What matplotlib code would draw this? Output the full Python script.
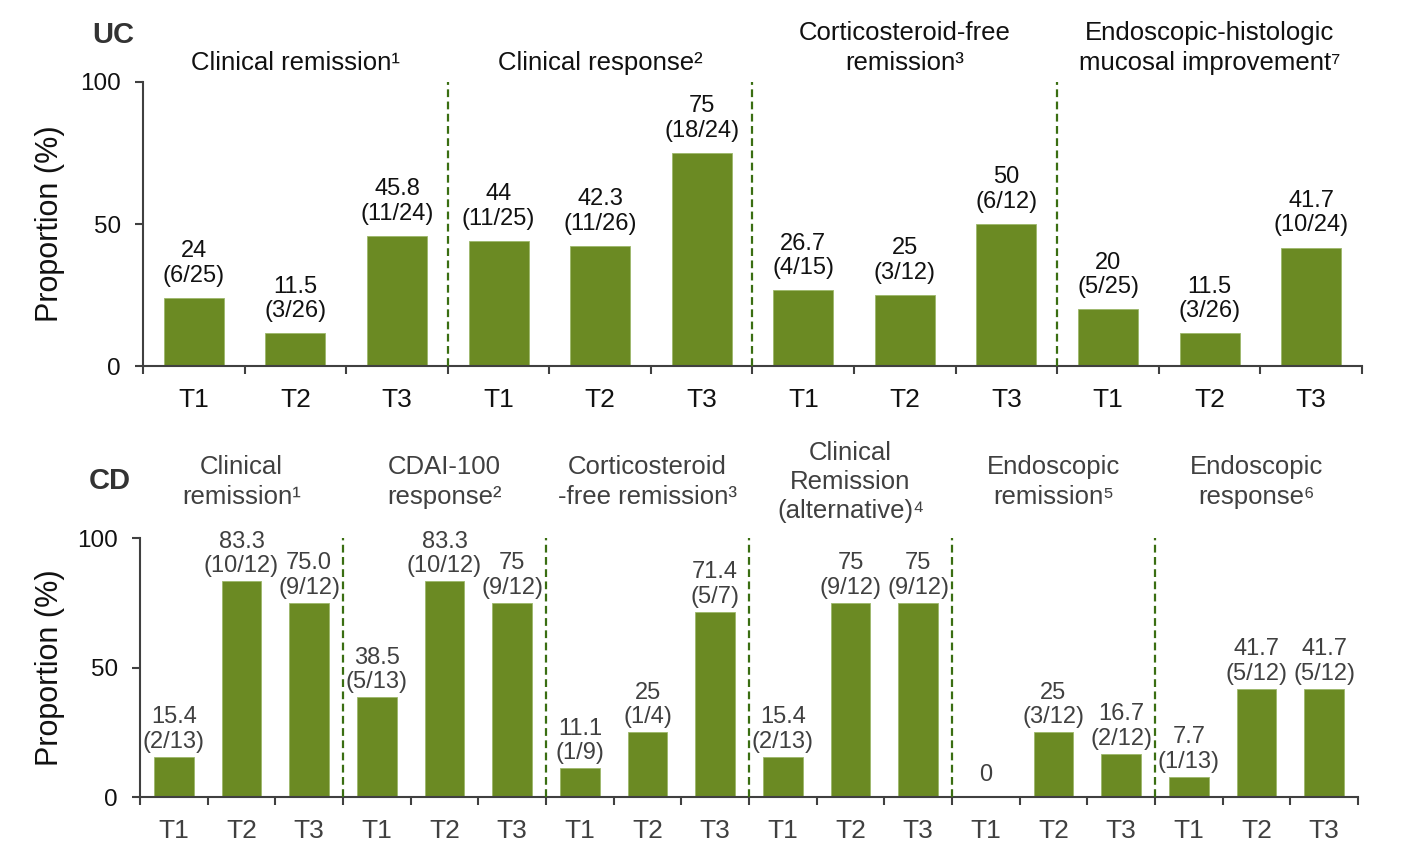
import matplotlib
matplotlib.use("Agg")
import matplotlib.pyplot as plt

plt.rcParams['font.family'] = ['Liberation Sans', 'DejaVu Sans']

timepoints = ["T1", "T2", "T3"]

# Ulcerative colitis endpoints
uc_titles = [
    "Clinical remission¹",
    "Clinical response²",
    "Corticosteroid-free\nremission³",
    "Endoscopic-histologic\nmucosal improvement⁷",
]
uc_values = [["24", "11.5", "45.8"],
             ["44", "42.3", "75"],
             ["26.7", "25", "50"],
             ["20", "11.5", "41.7"]]
uc_counts = [["6/25", "3/26", "11/24"],
             ["11/25", "11/26", "18/24"],
             ["4/15", "3/12", "6/12"],
             ["5/25", "3/26", "10/24"]]

# Crohn's disease endpoints
cd_titles = [
    "Clinical\nremission¹",
    "CDAI-100\nresponse²",
    "Corticosteroid\n-free remission³",
    "Clinical\nRemission\n(alternative)⁴",
    "Endoscopic\nremission⁵",
    "Endoscopic\nresponse⁶",
]
cd_values = [["15.4", "83.3", "75.0"],
             ["38.5", "83.3", "75"],
             ["11.1", "25", "71.4"],
             ["15.4", "75", "75"],
             ["0", "25", "16.7"],
             ["7.7", "41.7", "41.7"]]
cd_counts = [["2/13", "10/12", "9/12"],
             ["5/13", "10/12", "9/12"],
             ["1/9", "1/4", "5/7"],
             ["2/13", "9/12", "9/12"],
             ["", "3/12", "2/12"],
             ["1/13", "5/12", "5/12"]]

BAR_COLOR = "#6B8A23"
EDGE_COLOR = "#9DB86A"
DIVIDER_COLOR = "#3A6E12"
AXIS_COLOR = "#404040"

W, H = 1424, 846
fig = plt.figure(figsize=(W / 100, H / 100), dpi=100)


def draw_panel(ax, titles, values, counts, text_color, title_y, title_va,
               label_gap):
    n_groups = len(titles)
    n_bars = n_groups * len(timepoints)
    pos = 0
    for g in range(n_groups):
        for t in range(len(timepoints)):
            txt = values[g][t]
            h = float(txt)
            ax.bar(pos, h, width=0.59, color=BAR_COLOR, edgecolor=EDGE_COLOR,
                   linewidth=0.6, zorder=2)
            if counts[g][t]:
                label, gap = f"{txt}\n({counts[g][t]})", label_gap
            else:
                label, gap = txt, label_gap + 5
            ax.annotate(label, xy=(pos, h), xytext=(0, gap),
                        textcoords="offset points", ha="center", va="bottom",
                        fontsize=17, color=text_color, linespacing=1.15)
            pos += 1
        ax.text(g * 3 + 1, title_y, titles[g], ha="center", va=title_va,
                fontsize=18.5, color=text_color, linespacing=1.27,
                clip_on=False)
        if g > 0:
            ax.vlines(g * 3 - 0.5, 0, 100, colors=DIVIDER_COLOR,
                      linestyles=(0, (3.5, 2)), linewidth=1.6, zorder=3)

    ax.set_xlim(-0.5, n_bars - 0.5)
    ax.set_ylim(0, 100)
    ax.set_xticks([k - 0.5 for k in range(n_bars + 1)])
    ax.set_xticklabels([])
    ax.set_xticks(range(n_bars), minor=True)
    ax.set_xticklabels(timepoints * n_groups, minor=True)
    ax.tick_params(axis="x", which="major", length=6, width=1.5,
                   color=AXIS_COLOR, direction="out")
    ax.tick_params(axis="x", which="minor", length=0, pad=16,
                   labelsize=19, labelcolor=text_color)
    ax.set_yticks([0, 50, 100])
    ax.tick_params(axis="y", length=6, width=1.5, color=AXIS_COLOR,
                   direction="out", pad=10, labelsize=17.5, labelcolor="#111111")
    for side in ("top", "right"):
        ax.spines[side].set_visible(False)
    for side in ("left", "bottom"):
        ax.spines[side].set_color(AXIS_COLOR)
        ax.spines[side].set_linewidth(1.5)


ax_uc = fig.add_axes([143 / W, 1 - 366 / H, 1219 / W, 284 / H])
draw_panel(ax_uc, uc_titles, uc_values, uc_counts, "#111111", 102.6, "bottom", 8)

ax_cd = fig.add_axes([140 / W, 1 - 797 / H, 1218 / W, 259 / H])
draw_panel(ax_cd, cd_titles, cd_values, cd_counts, "#404040", 121.6, "center", 3)

fig.text(113 / W, 1 - 35 / H, "UC", ha="center", va="center",
         fontsize=21, fontweight="bold", color="#333333")
fig.text(110 / W, 1 - 481 / H, "CD", ha="center", va="center",
         fontsize=21, fontweight="bold", color="#333333")

fig.text(50 / W, 1 - 224 / H, "Proportion (%)", rotation=90,
         ha="center", va="center", fontsize=22, color="#111111")
fig.text(50 / W, 1 - 668 / H, "Proportion (%)", rotation=90,
         ha="center", va="center", fontsize=22, color="#111111")

fig.savefig("out.png", dpi=100, facecolor="white")
